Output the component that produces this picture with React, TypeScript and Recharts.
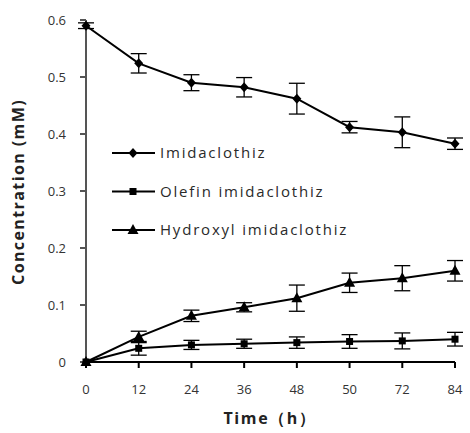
import { LineChart, Line, XAxis, YAxis, ErrorBar } from 'recharts';

const hours = [0, 12, 24, 36, 48, 60, 72, 84];
const hourLabels = ['0', '12', '24', '36', '48', '50', '72', '84'];
const yTicks = [0, 0.1, 0.2, 0.3, 0.4, 0.5, 0.6];

const imidaclothiz = [0.59, 0.524, 0.49, 0.482, 0.462, 0.412, 0.403, 0.383];
const imidaclothizErr = [0.005, 0.017, 0.014, 0.017, 0.027, 0.01, 0.027, 0.01];
const olefin = [0, 0.024, 0.03, 0.032, 0.034, 0.036, 0.037, 0.04];
const olefinErr = [0, 0.012, 0.008, 0.008, 0.01, 0.012, 0.014, 0.012];
const hydroxyl = [0, 0.044, 0.081, 0.096, 0.112, 0.139, 0.147, 0.16];
const hydroxylErr = [0, 0.01, 0.01, 0.008, 0.023, 0.017, 0.022, 0.018];

const SERIES = ['Imidaclothiz', 'Olefin imidaclothiz', 'Hydroxyl imidaclothiz'];

const data = hours.map((h, i) => ({
  h,
  a: imidaclothiz[i], aErr: imidaclothizErr[i],
  b: olefin[i], bErr: olefinErr[i],
  c: hydroxyl[i], cErr: hydroxylErr[i],
}));

const FONT = '"Open Sans", "Liberation Sans", sans-serif';

function Diamond(props: any) {
  const { cx, cy } = props;
  if (cx == null) return null;
  return <path d={`M${cx},${cy - 5}L${cx + 4.5},${cy}L${cx},${cy + 5}L${cx - 4.5},${cy}Z`} fill="#000" />;
}
function Square(props: any) {
  const { cx, cy } = props;
  if (cx == null) return null;
  return <rect x={cx - 3.5} y={cy - 3.5} width={7} height={7} fill="#000" />;
}
function Triangle(props: any) {
  const { cx, cy } = props;
  if (cx == null) return null;
  return <path d={`M${cx},${cy - 6}L${cx + 5.5},${cy + 4}L${cx - 5.5},${cy + 4}Z`} fill="#000" />;
}

const markers = [Diamond, Square, Triangle];

function LegendBox() {
  return (
    <svg width={280} height={100} style={{ position: 'absolute', left: 108, top: 145, overflow: 'visible' }}>
      {SERIES.map((name, i) => {
        const y = 8 + i * 38.5;
        const M = markers[i];
        return (
          <g key={name}>
            <line x1={4} x2={47} y1={y} y2={y} stroke="#000" strokeWidth={2} />
            <M cx={25} cy={y} />
            <text x={52} y={y + 5} fontSize={15} fill="#2a2a2a" fontFamily={FONT} letterSpacing={1.8}>{name}</text>
          </g>
        );
      })}
    </svg>
  );
}

// axis titles drawn as an overlay so they sit exactly where the reference has them
function AxisTitles() {
  const style = { fontSize: 16, fontWeight: 'bold' as const, fill: '#222', fontFamily: FONT };
  return (
    <svg width={470} height={433} style={{ position: 'absolute', left: 0, top: 0, pointerEvents: 'none' }}>
      <text x={0} y={0} transform="translate(24,192) rotate(-90)" textAnchor="middle" letterSpacing={1.4} {...style}>
        Concentration (mM)
      </text>
      <text x={270} y={424} textAnchor="middle" letterSpacing={1.6} {...style}>Time（h）</text>
    </svg>
  );
}

export default function App() {
  return (
    <div style={{ position: 'absolute', left: 0, top: 0, width: 470, height: 433, background: '#fff' }}>
      <LineChart width={470} height={433} data={data} margin={{ top: 20, right: 15, bottom: 36, left: 40 }}>
        <XAxis
          dataKey="h"
          type="number"
          domain={[0, 84]}
          ticks={hours}
          tickFormatter={(v: number) => hourLabels[hours.indexOf(v)]}
          stroke="#000"
          strokeWidth={2}
          tickSize={6}
          tickMargin={17}
          height={35}
          tick={{ fontSize: 13, fill: '#333', fontFamily: FONT }}
        />
        <YAxis
          type="number"
          domain={[0, 0.6]}
          ticks={yTicks}
          tickFormatter={(v: number) => (v === 0 ? '0' : String(v))}
          stroke="#555"
          strokeWidth={2}
          tickSize={6}
          tickMargin={14}
          width={46}
          tick={{ fontSize: 13, fill: '#333', fontFamily: FONT }}
        />
        <Line dataKey="a" name={SERIES[0]} stroke="#000" strokeWidth={2} dot={<Diamond />} isAnimationActive={false}>
          <ErrorBar dataKey="aErr" width={8} stroke="#000" strokeWidth={1.3} />
        </Line>
        <Line dataKey="b" name={SERIES[1]} stroke="#000" strokeWidth={2} dot={<Square />} isAnimationActive={false}>
          <ErrorBar dataKey="bErr" width={8} stroke="#000" strokeWidth={1.3} />
        </Line>
        <Line dataKey="c" name={SERIES[2]} stroke="#000" strokeWidth={2} dot={<Triangle />} isAnimationActive={false}>
          <ErrorBar dataKey="cErr" width={8} stroke="#000" strokeWidth={1.3} />
        </Line>
      </LineChart>
      <LegendBox />
      <AxisTitles />
    </div>
  );
}
